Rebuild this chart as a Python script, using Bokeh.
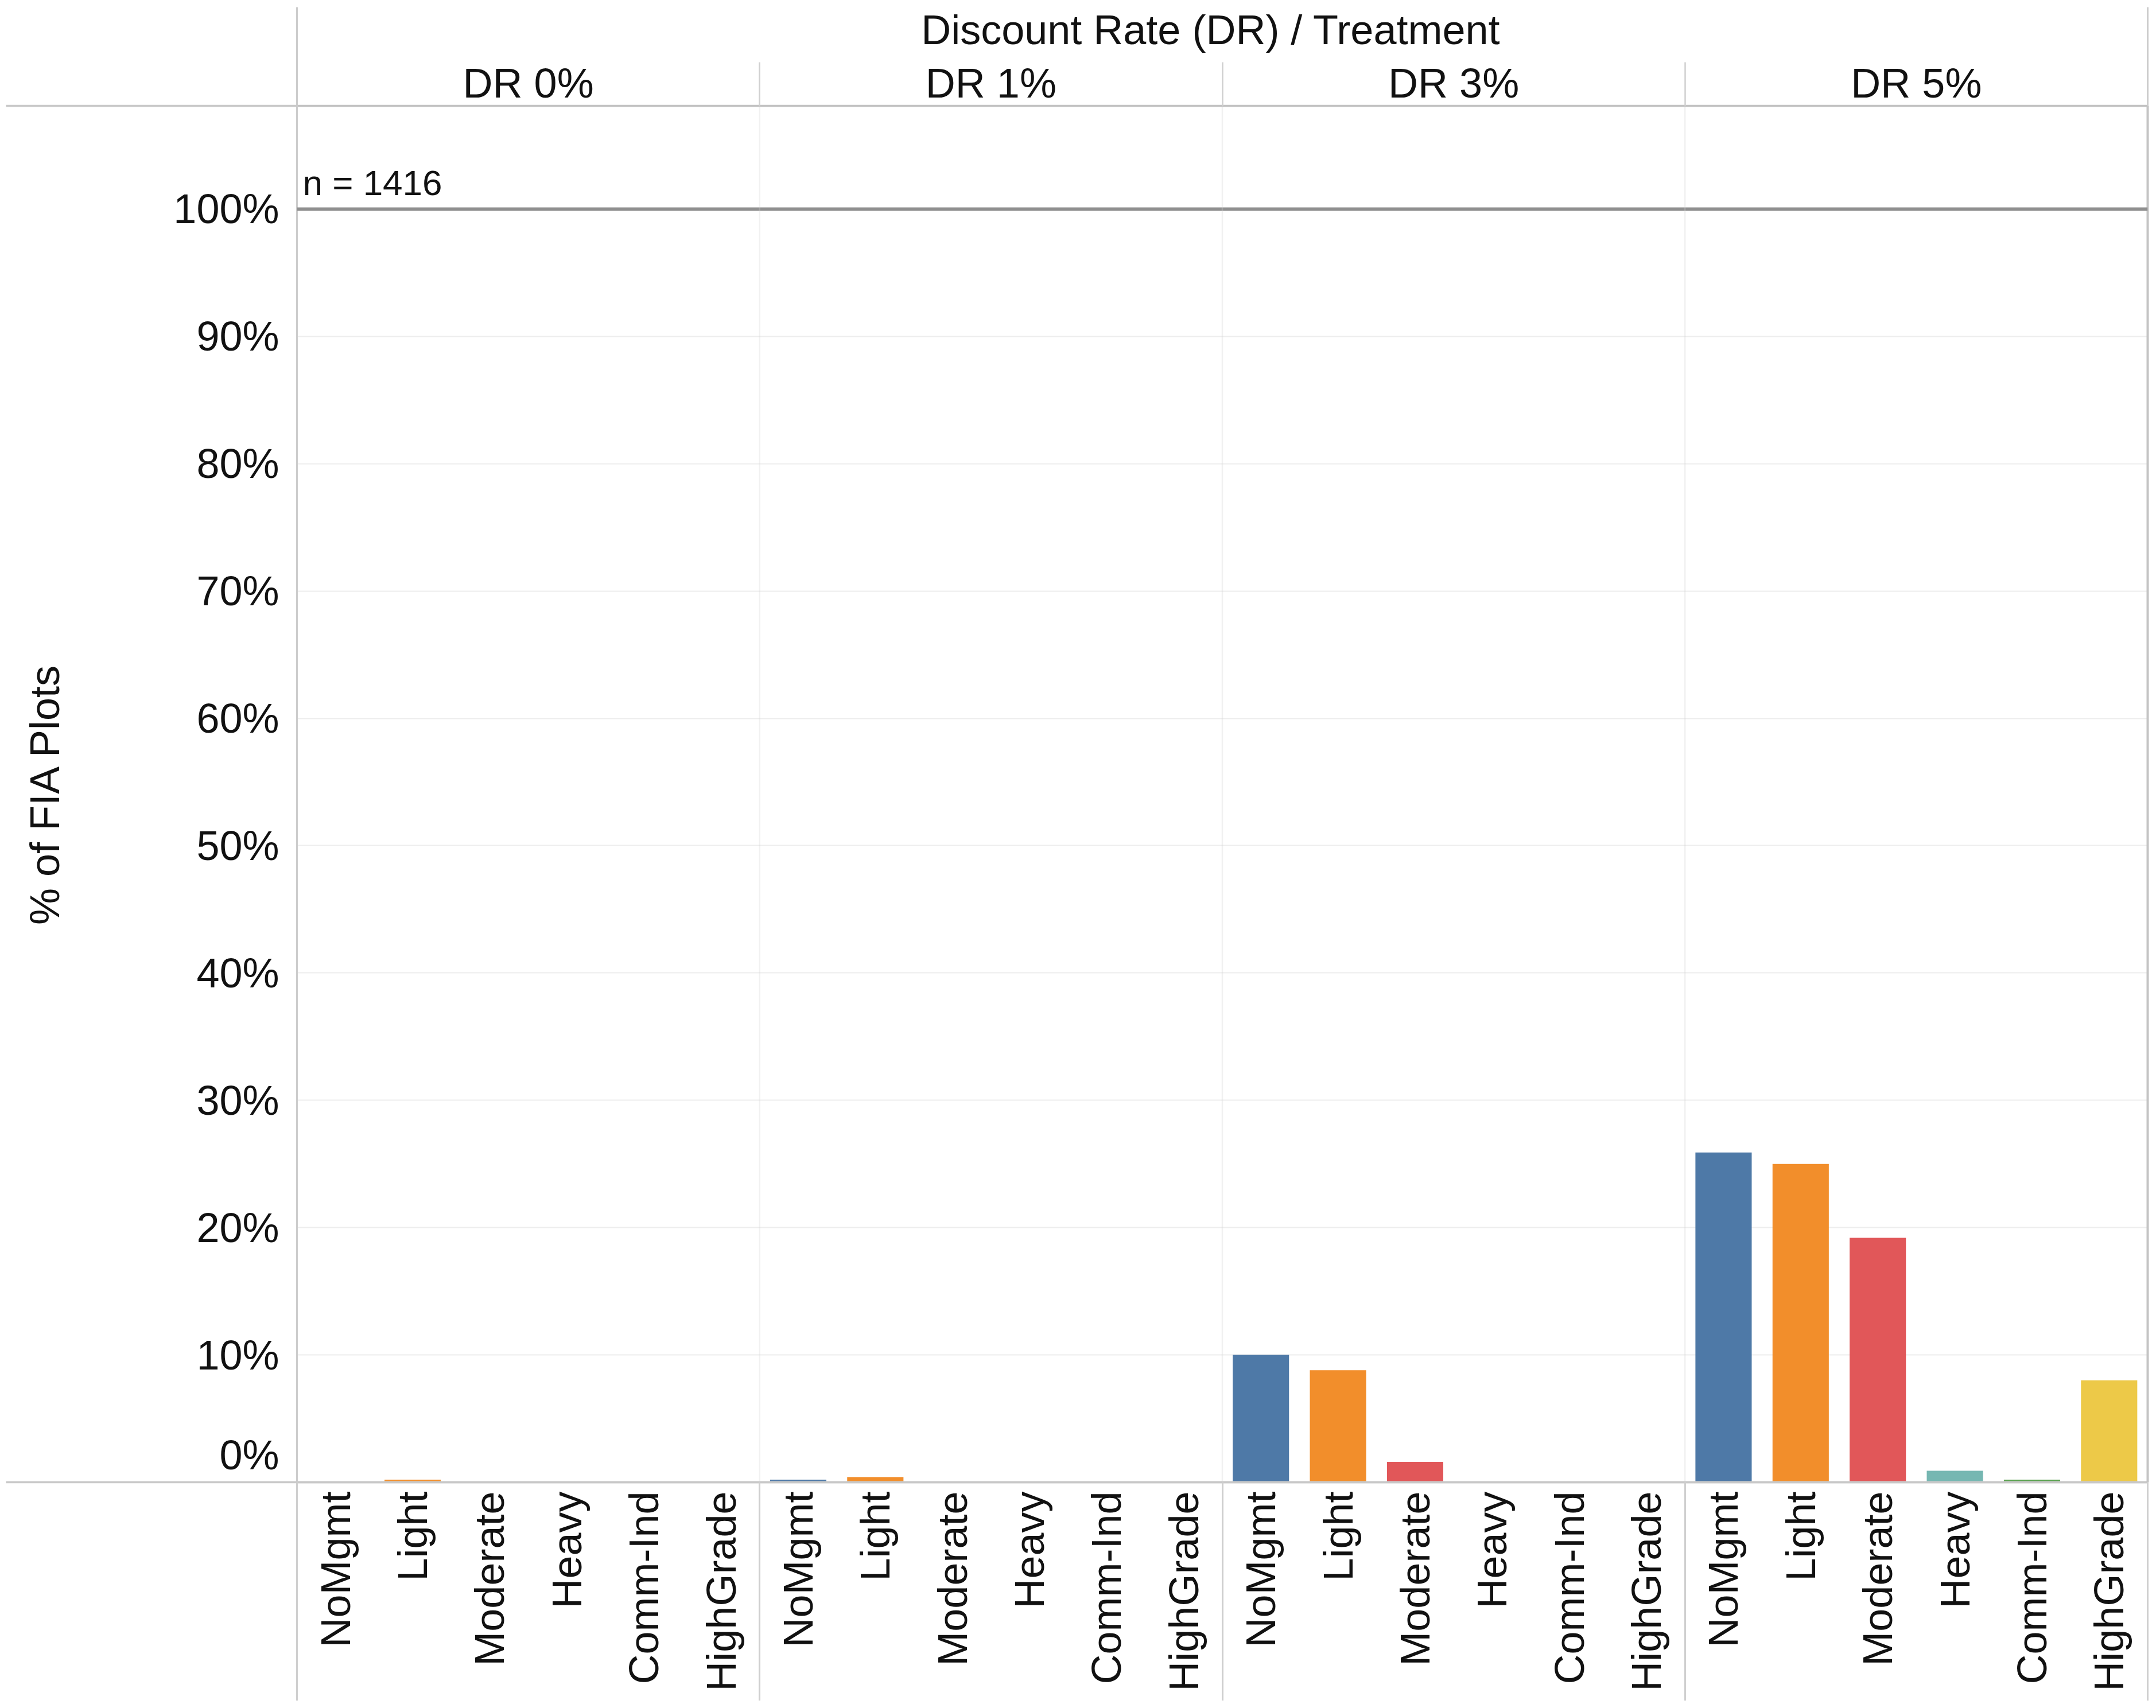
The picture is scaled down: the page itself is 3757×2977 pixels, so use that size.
import math
from bokeh.plotting import figure
from bokeh.models import (FactorRange, Range1d, FixedTicker, CategoricalAxis, LinearAxis, Span,
                          Label, BoxAnnotation, ColumnDataSource)
from bokeh.embed import file_html
from bokeh.resources import INLINE

# ---------------- data ----------------
DISCOUNT_RATES = ["DR 0%", "DR 1%", "DR 3%", "DR 5%"]
TREATMENTS = ["NoMgmt", "Light", "Moderate", "Heavy", "Comm-Ind", "HighGrade"]
PCT_DR0 = [0.0, 0.2, 0.0, 0.0, 0.0, 0.0]
PCT_DR1 = [0.2, 0.4, 0.0, 0.0, 0.0, 0.0]
PCT_DR3 = [10.0, 8.8, 1.6, 0.0, 0.0, 0.0]
PCT_DR5 = [25.9, 25.0, 19.2, 0.9, 0.2, 8.0]
TREATMENT_COLORS = ["#4E79A7", "#F28E2B", "#E15759", "#76B7B2", "#59A14F", "#EDC948"]
Y_TICKS = [0, 10, 20, 30, 40, 50, 60, 70, 80, 90, 100]
Y_TICK_LABELS = ["0%\n ", "10%", "20%", "30%", "40%", "50%", "60%", "70%", "80%", "90%", "100%"]
GRID_TICKS = [10, 20, 30, 40, 50, 60, 70, 80, 90, 100]
N_LABEL = "n = 1416"
TITLE = "Discount Rate (DR)  /  Treatment"
Y_TITLE = "% of FIA Plots"
Y_MAX = 108.11

FONT = "Liberation Sans"
TXT = "#111111"
FS = "72px"
RULE = "#c9c9c9"

factors = [(dr, t) for dr in DISCOUNT_RATES for t in TREATMENTS]
values = PCT_DR0 + PCT_DR1 + PCT_DR3 + PCT_DR5
colors = TREATMENT_COLORS * len(DISCOUNT_RATES)
source = ColumnDataSource(dict(x=factors, top=values, color=colors))
N = len(factors)
K = len(TREATMENTS)

FW, FH = 3225, 2399
x_range = FactorRange(factors=factors, factor_padding=0, group_padding=0,
                      subgroup_padding=0, range_padding=0)
p = figure(x_range=x_range, y_range=Range1d(0, Y_MAX),
           frame_width=FW, frame_height=FH,
           output_backend="svg", toolbar_location=None,
           min_border_left=517, min_border_right=12, min_border_top=184, min_border_bottom=381,
           background_fill_color="white", border_fill_color="white", outline_line_color=None)

p.vbar(x="x", top="top", width=0.73, color="color", line_color=None, source=source)

# bottom axis: treatments
ax = p.xaxis[0]
ax.major_label_orientation = math.pi / 2
ax.major_label_text_font = FONT
ax.major_label_text_font_size = FS
ax.major_label_text_color = TXT
ax.major_label_standoff = 16
ax.major_tick_line_color = None
ax.major_tick_out = 0
ax.axis_line_color = None
ax.group_text_font_size = "0px"
ax.group_text_color = None
ax.separator_line_color = None

# top axis: discount rate headers + title
top_ax = CategoricalAxis(major_label_text_font_size="1px", major_label_text_color=None,
                         major_tick_line_color=None, major_tick_out=0, axis_line_color=None,
                         major_label_standoff=0,
                         group_text_font=FONT, group_text_font_size=FS,
                         group_text_font_style="normal", group_text_color=TXT,
                         separator_line_color=None,
                         axis_label=TITLE, axis_label_text_font=FONT,
                         axis_label_text_font_size=FS, axis_label_text_font_style="normal",
                         axis_label_text_color=TXT, axis_label_standoff=10)

# y axis
yax = p.yaxis[0]
yax.ticker = FixedTicker(ticks=Y_TICKS)
yax.major_label_overrides = dict(zip(Y_TICKS, Y_TICK_LABELS))
yax.major_label_text_font = FONT
yax.major_label_text_font_size = FS
yax.major_label_text_color = TXT
yax.major_label_standoff = 31
yax.major_tick_line_color = None
yax.minor_tick_line_color = None
yax.major_tick_out = 0
yax.axis_line_color = None
yax.axis_label = Y_TITLE
yax.axis_label_text_font = FONT
yax.axis_label_text_font_size = FS
yax.axis_label_text_font_style = "normal"
yax.axis_label_text_color = TXT
yax.axis_label_standoff = 181


def rule_axis(minor, length, line_color, line_width, axis_line_color=None, axis_line_width=1):
    # zero-size axis: its minor ticks are drawn outward through a negative "tick in"
    return LinearAxis(ticker=FixedTicker(ticks=[], minor_ticks=minor),
                      major_label_text_font_size="0px", major_label_standoff=0,
                      major_tick_out=0, major_tick_in=0, major_tick_line_color=None,
                      minor_tick_out=0, minor_tick_in=-length,
                      minor_tick_line_color=line_color, minor_tick_line_width=line_width,
                      axis_line_color=axis_line_color, axis_line_width=axis_line_width)

edges_all = [0, N]
edges_inner = [k * K for k in range(1, len(DISCOUNT_RATES))]

# table rules drawn by zero-size axes
left_rule = rule_axis([0, Y_MAX], 507, RULE, 3.5, axis_line_color="#cccccc", axis_line_width=3)
below_rule = rule_axis(edges_all + edges_inner, 381, "#cfcfcf", 3, axis_line_color=RULE,
                       axis_line_width=4)
above_outer = rule_axis(edges_all, 172, "#cccccc", 3, axis_line_color="#c2c2c2",
                        axis_line_width=3.5)
above_inner = rule_axis(edges_inner, 76, "#d0d0d0", 2.5)
right_rule = LinearAxis(ticker=FixedTicker(ticks=[]), major_label_text_font_size="0px",
                        major_label_standoff=0, major_tick_out=0, major_tick_line_color=None,
                        minor_tick_line_color=None, axis_line_color="#c4c4c4", axis_line_width=4)

p.left = [left_rule] + list(p.left)
p.below = [below_rule] + list(p.below)
p.above = [above_outer, above_inner, top_ax]
p.right = [right_rule]

p.xgrid.grid_line_color = None
p.ygrid.ticker = FixedTicker(ticks=GRID_TICKS)
p.ygrid.grid_line_color = "#ededed"
p.ygrid.grid_line_width = 2

# reference line at 100%
p.add_layout(Span(location=100, dimension="width", line_color="#8f8f8f", line_width=6))

# panel dividers inside the frame
for edge in edges_inner:
    p.add_layout(BoxAnnotation(left=edge, right=edge, fill_color=None,
                               line_color="#d0d0d0", line_width=2.5))

p.add_layout(Label(x=0, y=100, x_offset=10, y_offset=46, text=N_LABEL, text_align="left",
                   text_baseline="alphabetic", text_font=FONT, text_font_size="62px",
                   text_color=TXT))

open("out.html", "w").write(file_html(p, INLINE))
